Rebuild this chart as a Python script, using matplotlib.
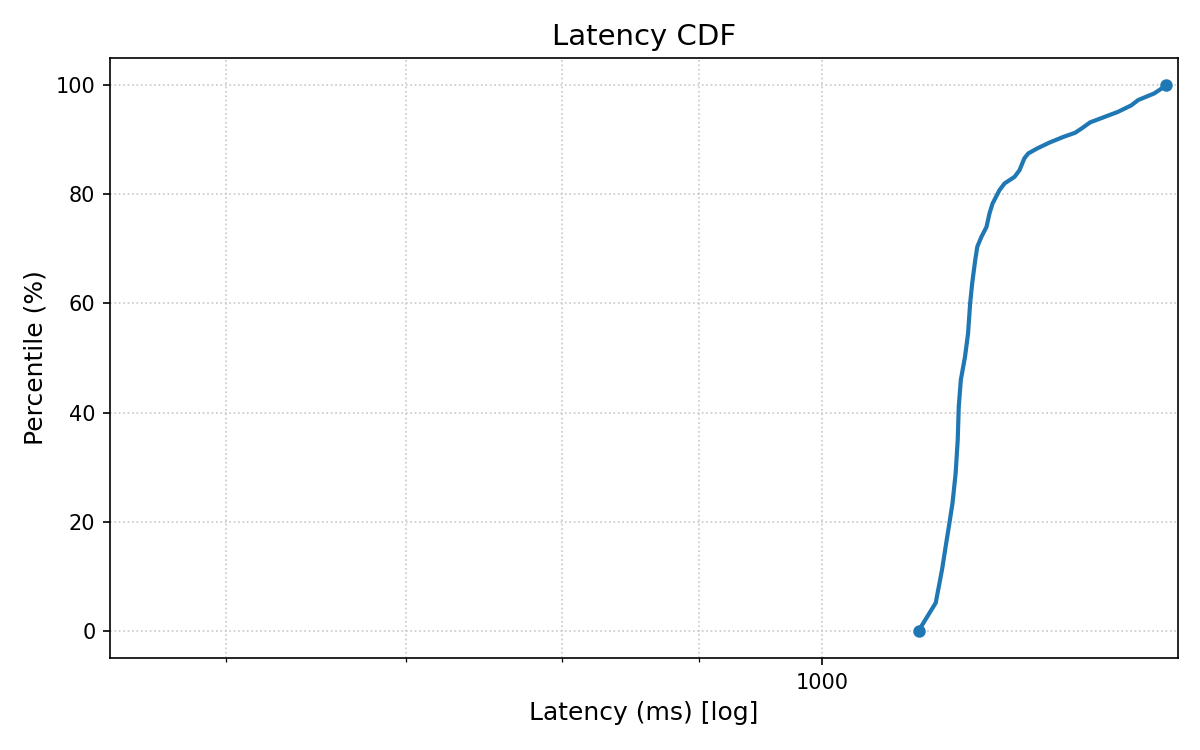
import numpy as np
import matplotlib
matplotlib.use("Agg")
import matplotlib.pyplot as plt
from matplotlib.ticker import ScalarFormatter, NullFormatter

# latency (ms) and percentile
latency_ms = [1086, 1096, 1102, 1108, 1112, 1115, 1118, 1121, 1123, 1124,
              1126, 1130, 1133, 1135, 1137, 1140, 1142, 1146, 1151, 1154,
              1157, 1164, 1169, 1179, 1184, 1189, 1193, 1202, 1215, 1229,
              1242, 1249, 1258, 1269, 1288, 1303, 1311, 1329, 1343]
percentile = [0.0, 3.2, 5.1, 11.2, 16.1, 19.7, 23.4, 28.9, 35.0, 41.1,
              46.0, 50.2, 54.5, 60.0, 63.7, 68.0, 70.4, 72.2, 74.0, 76.5,
              78.3, 80.8, 82.0, 83.2, 84.4, 86.6, 87.5, 88.4, 89.5, 90.5,
              91.3, 92.1, 93.2, 93.9, 95.1, 96.3, 97.3, 98.5, 100.0]

fig, ax = plt.subplots(figsize=(8, 5), dpi=150)
fig.subplots_adjust(left=0.0917, right=0.9817, top=0.9227, bottom=0.1227)

ax.plot(latency_ms, percentile, color="#1f77b4", linewidth=2,
        marker="o", markersize=5, markevery=[0, len(latency_ms) - 1])

ax.set_xscale("log")
ax.set_xlim(min(latency_ms) * 0.5, max(latency_ms) * 1.01)
ax.set_ylim(-5, 105)
ax.xaxis.set_major_formatter(ScalarFormatter())
ax.xaxis.set_minor_formatter(NullFormatter())

ax.grid(True, which="both", linestyle=":", color="#c8c8c8", linewidth=0.8)
ax.tick_params(labelsize=10)

ax.set_title("Latency CDF", fontsize=14)
ax.set_xlabel("Latency (ms) [log]", fontsize=12)
ax.set_ylabel("Percentile (%)", fontsize=12)

plt.savefig("out.png")
